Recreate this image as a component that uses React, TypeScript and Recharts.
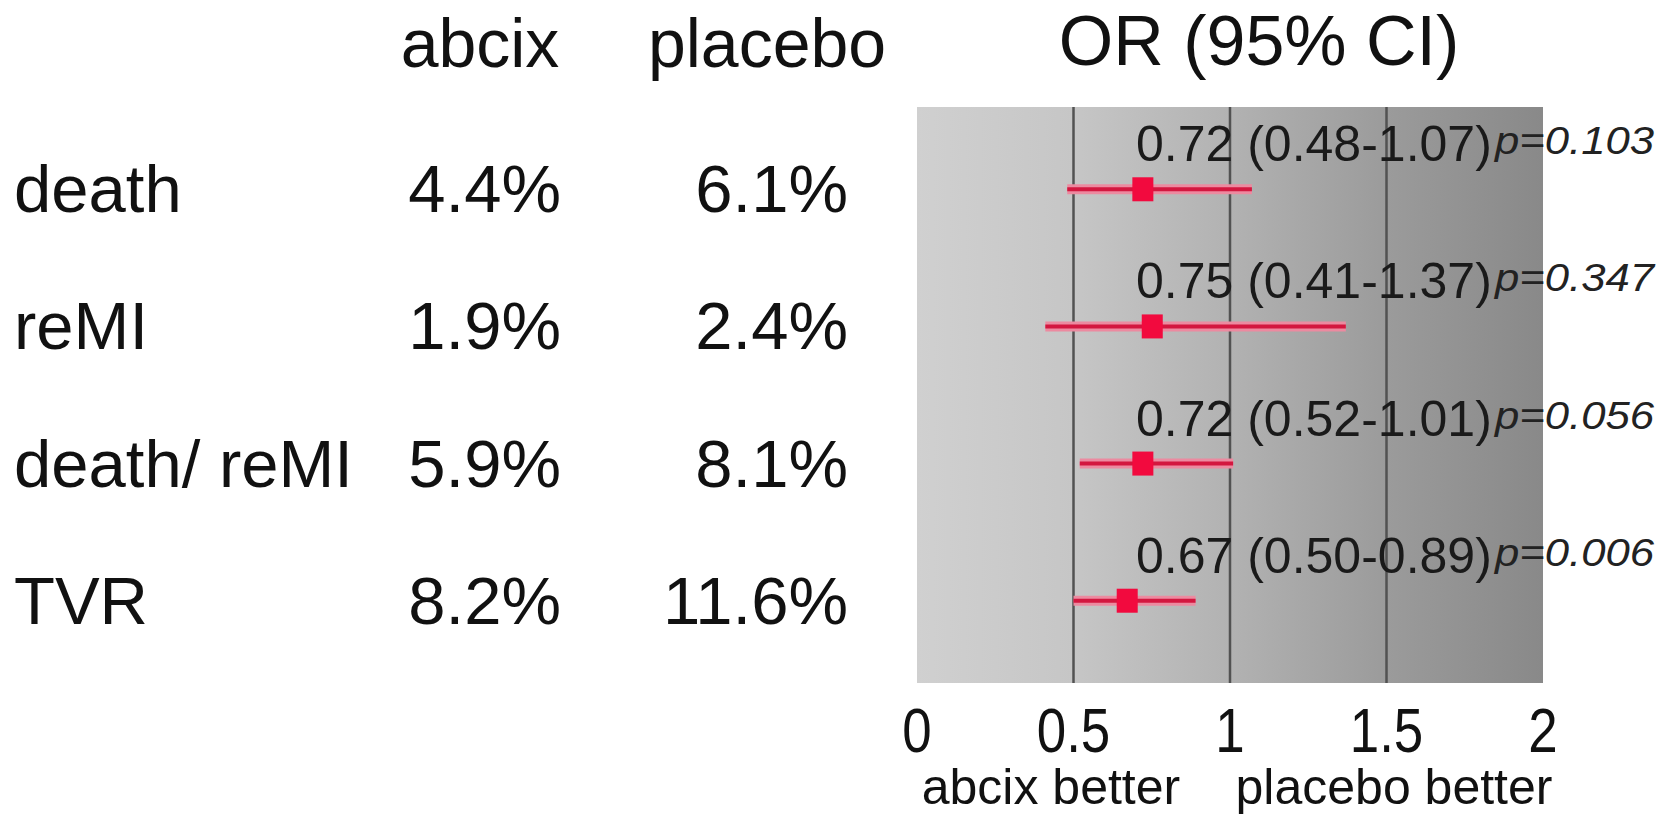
import React from 'react';
import {
  ComposedChart, Scatter, XAxis, YAxis, ErrorBar, ReferenceLine, CartesianGrid,
} from 'recharts';

const FONT = '"Liberation Sans", Arial, Helvetica, sans-serif';

// outcome rows, top to bottom
const outcomes = ['death', 'reMI', 'death/ reMI', 'TVR'];
const abcixRates = [4.4, 1.9, 5.9, 8.2];
const placeboRates = [6.1, 2.4, 8.1, 11.6];
const oddsRatios = [0.72, 0.75, 0.72, 0.67];
const ciLower = [0.48, 0.41, 0.52, 0.5];
const ciUpper = [1.07, 1.37, 1.01, 0.89];
const pValues = ['0.103', '0.347', '0.056', '0.006'];

const xTicks = [0, 0.5, 1, 1.5, 2];
const gridLines = [0.5, 1, 1.5];

const rows = outcomes.map((name, i) => ({
  name,
  row: i,
  or: oddsRatios[i],
  ci: [oddsRatios[i] - ciLower[i], ciUpper[i] - oddsRatios[i]],
}));

// one table row: outcome, event rates, OR text and p value
function RowTick({ y, payload }: any) {
  const i = payload.value as number;
  const base = y + 23;
  return (
    <g fontFamily={FONT} fill="#111">
      <text x={14} y={base} fontSize={67}>{outcomes[i]}</text>
      <text x={561} y={base} fontSize={67} textAnchor="end">{abcixRates[i].toFixed(1)}%</text>
      <text x={848} y={base} fontSize={67} textAnchor="end">{placeboRates[i].toFixed(1)}%</text>
      <text x={1136} y={y - 28} fontSize={50} fill="#1a1a1a">
        {`${oddsRatios[i].toFixed(2)} (${ciLower[i].toFixed(2)}-${ciUpper[i].toFixed(2)})`}
      </text>
      <text
        transform={`translate(1495, ${y - 35}) scale(1.12, 1)`}
        fontSize={39}
        fontStyle="italic"
        fill="#222"
      >
        {`p=${pValues[i]}`}
      </text>
    </g>
  );
}

function OddsTick({ x, y, payload }: any) {
  return (
    <text
      transform={`translate(${x}, ${y + 61}) scale(0.84, 1)`}
      textAnchor="middle"
      fontSize={63}
      fontFamily={FONT}
      fill="#111"
    >
      {payload.value}
    </text>
  );
}

function SideLabels({ viewBox }: any) {
  const { x, y, width } = viewBox;
  return (
    <g fontFamily={FONT} fontSize={50} fill="#111" textAnchor="middle">
      <text x={x + width * 0.214} y={y + 121}>abcix better</text>
      <text x={x + width * 0.762} y={y + 121}>placebo better</text>
    </g>
  );
}

function SquareMarker({ cx, cy }: any) {
  return <rect x={cx - 10} y={cy - 12} width={21} height={24} fill="#f20a3e" />;
}

export default function App() {
  return (
    <div style={{ position: 'absolute', left: 0, top: 0, width: 1674, height: 816, background: '#fff' }}>
      <svg width={1674} height={110} style={{ position: 'absolute', left: 0, top: 0 }}>
        <g fontFamily={FONT} fontSize={68} fill="#111" textAnchor="middle">
          <text x={480} y={67}>abcix</text>
          <text x={767} y={67}>placebo</text>
          <text x={1259} y={65} fontSize={70}>OR (95% CI)</text>
        </g>
      </svg>
      <div style={{ position: 'absolute', left: 0, top: 0 }}>
        <ComposedChart
          width={1674}
          height={816}
          data={rows}
          margin={{ top: 107, right: 131, bottom: 0, left: 0 }}
        >
          <defs>
            <linearGradient id="orBg" x1="0" y1="0" x2="1" y2="0">
              <stop offset="0%" stopColor="#d0d0d0" />
              <stop offset="25%" stopColor="#c6c6c6" />
              <stop offset="50%" stopColor="#b2b2b2" />
              <stop offset="75%" stopColor="#9b9b9b" />
              <stop offset="100%" stopColor="#898989" />
            </linearGradient>
          </defs>
          <CartesianGrid fill="url(#orBg)" horizontal={false} vertical={false} />
          <XAxis
            type="number"
            dataKey="or"
            domain={[0, 2]}
            ticks={xTicks}
            interval={0}
            axisLine={false}
            tickLine={false}
            height={133}
            tick={<OddsTick />}
            label={<SideLabels />}
          />
          <YAxis
            type="number"
            dataKey="row"
            domain={[-0.6, 3.6]}
            reversed
            ticks={rows.map((r) => r.row)}
            interval={0}
            axisLine={false}
            tickLine={false}
            width={917}
            tick={<RowTick />}
          />
          {gridLines.map((v) => (
            <ReferenceLine key={v} x={v} stroke="#525252" strokeWidth={2.5} />
          ))}
          <Scatter data={rows} dataKey="or" shape={<SquareMarker />} isAnimationActive={false}>
            <ErrorBar dataKey="ci" direction="x" width={0} stroke="#ec8aa0" strokeWidth={10} isAnimationActive={false} />
            <ErrorBar dataKey="ci" direction="x" width={0} stroke="#d3173f" strokeWidth={4} isAnimationActive={false} />
          </Scatter>
        </ComposedChart>
      </div>
    </div>
  );
}
